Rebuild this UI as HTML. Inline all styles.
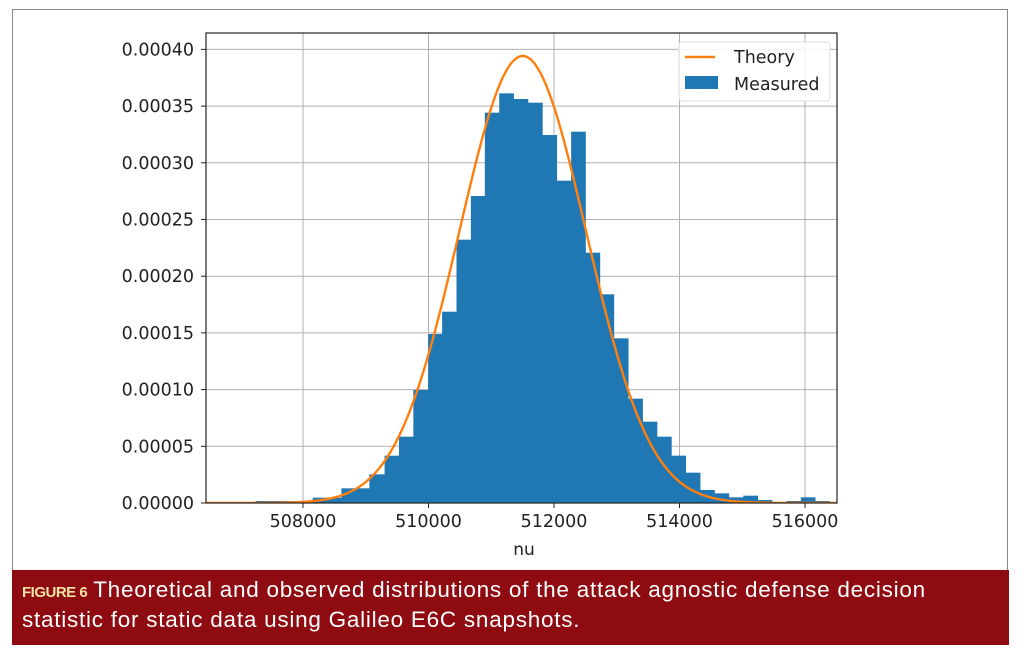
<!DOCTYPE html>
<html><head><meta charset="utf-8"><style>
body{margin:0;background:#fff;width:1024px;height:660px;overflow:hidden;position:relative;font-family:"DejaVu Sans",sans-serif}
.frame{position:absolute;left:12px;top:9px;width:996px;height:636px;border:1px solid #888;box-sizing:border-box}
.cap{position:absolute;left:12px;top:570px;width:997px;height:75px;background:#8e0b12;color:#fff;font-family:"Liberation Sans",sans-serif;font-size:22.5px;line-height:27px;padding:6px 0 0 10px;box-sizing:border-box;letter-spacing:0.75px;white-space:nowrap}
.cap b{color:#f3e2a6;font-size:15px;font-weight:bold;letter-spacing:-0.5px;margin-right:6px}
</style></head><body>
<div class="frame"></div>
<svg width="1024" height="660" style="position:absolute;left:0;top:0" font-family="DejaVu Sans, sans-serif">
<defs><clipPath id="pc"><rect x="105" y="200" width="20" height="100"/></clipPath>
<clipPath id="ax"><rect x="206" y="33" width="631" height="470"/></clipPath></defs>
<g id="grid" stroke="#b0b0b0" stroke-width="1"></g>
<g id="bars" fill="#1f77b4" clip-path="url(#ax)"></g>
<path id="curve" fill="none" stroke="#ff7f0e" stroke-width="2.4" clip-path="url(#ax)"/>
<rect x="206" y="33" width="631" height="470" fill="none" stroke="#222" stroke-width="1.2"/>
<g id="ticks" font-size="17.5" fill="#222"></g>
<text x="524" y="555" font-size="17" text-anchor="middle" fill="#222">nu</text>
<text transform="translate(114,270) rotate(-90)" font-size="17" text-anchor="middle" fill="#222" clip-path="url(#pc)">PDF</text>
<rect x="679" y="42" width="151" height="59" fill="#fff" fill-opacity="0.85" stroke="#ddd" rx="3"/>
<line x1="685" y1="57" x2="715" y2="57" stroke="#ff7f0e" stroke-width="2.4"/>
<text x="734" y="63" font-size="17.5" fill="#222">Theory</text>
<rect x="685" y="76" width="33" height="13" fill="#1f77b4"/>
<text x="734" y="90" font-size="17.5" fill="#222">Measured</text>
</svg>
<div class="cap"><b>FIGURE 6</b>Theoretical and observed distributions of the attack agnostic defense decision<br>statistic for static data using Galileo E6C snapshots.</div>
<script>
var ns="http://www.w3.org/2000/svg";
function X(v){return 303+(v-508000)*0.06275}
function Y(p){return 503-p/0.00005*56.7}
function el(t,a,p){var e=document.createElementNS(ns,t);for(var k in a)e.setAttribute(k,a[k]);document.getElementById(p).appendChild(e);return e}
for(var v=508000;v<=516000;v+=2000){var x=X(v);el('line',{x1:x,x2:x,y1:33,y2:503},'grid');el('line',{x1:x,x2:x,y1:503,y2:508,stroke:'#222'},'ticks');var t=el('text',{x:x,y:527,'text-anchor':'middle'},'ticks');t.textContent=v;}
for(var i=0;i<=8;i++){var p=i*0.00005,y=Y(p);el('line',{x1:206,x2:837,y1:y,y2:y},'grid');el('line',{x1:201,x2:206,y1:y,y2:y,stroke:'#222'},'ticks');var t=el('text',{x:194,y:y+6,'text-anchor':'end'},'ticks');t.textContent=p.toFixed(5);}
var b=[[155,290,1443],[290,358,1433],[358,424,1405],[424,460,1363],[460,494,1307],[494,528,1250],[528,563,1110],[563,596,942],[596,630,875],[630,664,659],[664,697,528],[697,731,278],[731,765,220],[765,799,237],[799,833,248],[833,867,345],[867,901,482],[901,935,335],[935,969,698],[969,1002,823],[1002,1036,955],[1036,1070,1136],[1070,1104,1205],[1104,1138,1250],[1138,1172,1307],[1172,1206,1358],[1206,1240,1410],[1240,1274,1420],[1274,1308,1432],[1308,1342,1427],[1342,1376,1440],[1410,1444,1443],[1444,1478,1432],[1478,1512,1443]];
b.forEach(function(r){var x0=190+r[0]/2.364,x1=190+r[1]/2.364,y=20+r[2]/3;el('rect',{x:x0,y:y,width:x1-x0+0.3,height:503-y},'bars');});
var d='',mu=511502,s=1012;
for(var v=506400;v<=516600;v+=20){var p=Math.exp(-0.5*Math.pow((v-mu)/s,2))/(s*2.5066);d+=(d?'L':'M')+X(v).toFixed(1)+','+Y(p).toFixed(1);}
document.getElementById('curve').setAttribute('d',d);
</script>
</body></html>
